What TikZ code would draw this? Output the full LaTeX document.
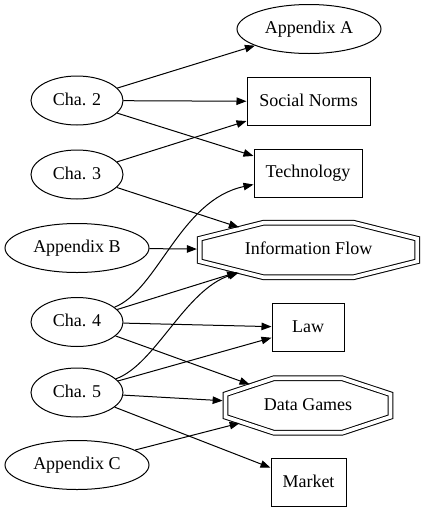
\documentclass[tikz,border=0pt]{standalone}
\usepackage{fontspec}
\setmainfont{Liberation Serif}
\usetikzlibrary{shapes.geometric,arrows.meta}
\begin{document}
\begin{tikzpicture}[x=1pt,y=1pt,
  every node/.style={font=\fontsize{18}{21}\selectfont, text height=12pt, text depth=3pt},
  lw/.style={line width=1pt},
  ell/.style={ellipse, draw, lw, inner sep=0pt, minimum height=49pt},
  cha/.style={ell, minimum width=92pt},
  appx/.style={ell, minimum width=144pt},
  boxnode/.style={rectangle, draw, lw, inner sep=0pt, minimum height=48pt},
  octo/.style={regular polygon, regular polygon sides=8, draw, lw, double, double distance=3.7pt, inner sep=0pt, outer sep=0pt, minimum size=59pt},
  arr/.style={lw, -{Triangle[length=10pt,width=7.5pt]}},
  arro/.style={arr, shorten >=2.85pt},
]
\useasboundingbox (0,0) rectangle (425,-512);
\node[appx] (appa) at (309,-29) {Appendix A};
\node[cha] (cha2) at (77,-100.5) {Cha. 2};
\node[boxnode, minimum width=123pt] (soc) at (308.5,-101.5) {Social Norms};
\node[cha] (cha3) at (77,-174.5) {Cha. 3};
\node[boxnode, minimum width=108pt] (tech) at (308,-173) {Technology};
\node[appx] (appb) at (77,-248) {Appendix B};
\node[octo, xscale=3.991] (ifl) at (308.5,-250) {};
\node (ifltext) at (ifl.center) {Information Flow};
\node[cha] (cha4) at (77,-322) {Cha. 4};
\node[boxnode, minimum width=72pt] (law) at (308,-327.5) {Law};
\node[cha] (cha5) at (77,-392.5) {Cha. 5};
\node[octo, xscale=3.028] (dg) at (308,-405.5) {};
\node (dgtext) at (dg.center) {Data Games};
\node[appx] (appc) at (77,-465) {Appendix C};
\node[boxnode, minimum width=75pt] (mkt) at (308.5,-482.5) {Market};

\draw[arr] (cha2) -- (appa);
\draw[arr] (cha2) -- (soc);
\draw[arr] (cha2) -- (tech);
\draw[arr] (cha3) -- (soc);
\draw[arro] (cha3) -- (ifl);
\draw[arro] (appb) -- (ifl);
\draw[arr] (cha4) .. controls (158,-290) and (180,-200) .. (tech);
\draw[arro] (cha4) -- (ifl);
\draw[arr] (cha4) -- (law);
\draw[arro] (cha4) -- (dg);
\draw[arro] (cha5) .. controls (155,-365) and (185,-290) .. (ifl);
\draw[arr] (cha5) -- (law);
\draw[arro] (cha5) -- (dg);
\draw[arr] (cha5) -- (mkt);
\draw[arro] (appc) -- (dg);
\end{tikzpicture}
\end{document}
